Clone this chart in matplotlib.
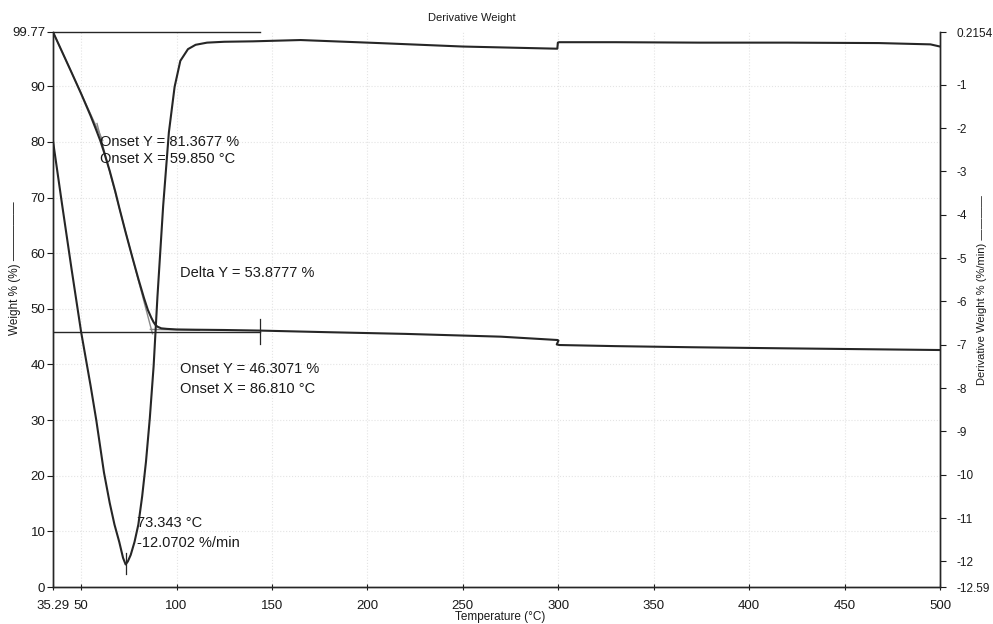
import matplotlib
matplotlib.use("Agg")
import matplotlib.pyplot as plt

plt.rcParams['font.family'] = ['Liberation Sans', 'DejaVu Sans']
plt.rcParams['axes.unicode_minus'] = False

# ---- TGA weight curve (Weight %, left axis) ----
weight_temp = [35.29, 40, 45, 50, 55, 58, 60, 62, 65, 68, 70, 73.3, 77, 80, 83,
               85, 86.8, 88, 89, 90, 92, 95, 100, 110, 125, 143, 180, 220, 250,
               270, 299.6, 300.1, 299.2, 300.6, 330, 370, 420, 460, 500]
weight_pct = [99.77, 96.25, 92.5, 88.7, 84.7, 82.1, 80.3, 78.2, 74.8, 71.0, 68.2,
              63.8, 59.1, 55.4, 51.9, 49.8, 48.4, 47.6, 47.1, 46.8, 46.5, 46.4,
              46.3, 46.25, 46.2, 46.1, 45.8, 45.5, 45.2, 45.0, 44.4, 44.3, 43.6,
              43.5, 43.3, 43.1, 42.9, 42.75, 42.6]

# ---- Derivative weight curve (%/min, right axis) ----
deriv_temp = [35.29, 40, 45, 50, 55, 58, 60, 62, 65, 67.5, 70, 72, 73.343, 74.5,
              76, 78, 80, 82, 84, 86, 88, 90, 93, 96, 99, 102, 106, 110, 116,
              125, 140, 165, 206, 250, 299.5, 299.8, 300.5, 330, 374, 420, 468,
              495, 500]
deriv_val = [-2.30, -3.75, -5.25, -6.70, -7.95, -8.75, -9.35, -9.95, -10.65,
             -11.15, -11.55, -11.92, -12.0702, -12.0, -11.85, -11.55, -11.15,
             -10.5, -9.7, -8.7, -7.5, -5.9, -3.8, -2.1, -1.05, -0.45, -0.18,
             -0.08, -0.03, -0.01, 0.0, 0.03, -0.04, -0.12, -0.17, -0.03, -0.02,
             -0.02, -0.03, -0.03, -0.04, -0.07, -0.12]

# ---- analysis results ----
onset1_x, onset1_y = 59.850, 81.3677
onset2_x, onset2_y = 86.810, 46.3071
delta_y = 53.8777
start_weight = 99.77
peak_x, peak_y = 73.343, -12.0702
step_end_x = 143.7

# ---- axis ranges and ticks ----
x_min, x_max = 35.29, 500
w_min, w_max = 0, 99.77
d_min, d_max = -12.59, 0.2154
x_ticks = [35.29, 50, 100, 150, 200, 250, 300, 350, 400, 450, 500]
w_ticks = [0, 10, 20, 30, 40, 50, 60, 70, 80, 90, 99.77]
d_ticks = [0.2154, -1, -2, -3, -4, -5, -6, -7, -8, -9, -10, -11, -12, -12.59]

line_col = '#262626'
tan_col = '#8a8a8a'
txt_col = '#1a1a1a'

fig = plt.figure(figsize=(9.93, 6.24), dpi=100)
ax = fig.add_axes([53 / 993, 37 / 624, 887 / 993, 555 / 624])
ax2 = ax.twinx()

ax.set_xlim(x_min, x_max)
ax.set_ylim(w_min, w_max)
ax2.set_ylim(d_min, d_max)

# faint dotted grid
for t in x_ticks[1:-1]:
    ax.axvline(t, color='#e4e4e4', lw=0.8, ls=':', zorder=0)
for w in w_ticks[1:-1]:
    ax.axhline(w, color='#e4e4e4', lw=0.8, ls=':', zorder=0)

# weight curve
ax.plot(weight_temp, weight_pct, color=line_col, lw=1.5, zorder=3)

# tangent construction lines
s1 = (onset1_y - start_weight) / (onset1_x - x_min)
ax.plot([x_min, onset1_x + 1.5], [start_weight, onset1_y + s1 * 1.5],
        color=tan_col, lw=1.0, zorder=2)
s2 = (onset2_y - onset1_y) / (onset2_x - onset1_x)
ax.plot([onset1_x - 1.5, onset2_x + 0.6],
        [onset1_y - s2 * 1.5, onset2_y + s2 * 0.6],
        color=tan_col, lw=1.0, zorder=2)
ax.plot([onset2_x - 0.5, 112], [onset2_y, onset2_y - 0.15],
        color=tan_col, lw=1.0, zorder=2)

# delta-Y step lines
low_level = start_weight - delta_y
ax.plot([x_min, step_end_x], [start_weight, start_weight], color=line_col, lw=1.0,
        clip_on=False, zorder=3)
ax.plot([x_min, step_end_x], [low_level, low_level], color=line_col, lw=1.0, zorder=3)
ax.plot([step_end_x, step_end_x], [low_level - 2.2, low_level + 2.2],
        color=line_col, lw=0.9, zorder=3)

# derivative curve
ax2.plot(deriv_temp, deriv_val, color=line_col, lw=1.5, zorder=3)
ax2.plot([peak_x, peak_x], [peak_y + 0.27, peak_y - 0.22], color=line_col, lw=0.9)

# annotations
fs = 10.5
ax.text(onset1_x, 80.0, "Onset Y = 81.3677 %", fontsize=fs, color=txt_col, va='center')
ax.text(onset1_x, 76.9, "Onset X = 59.850 \u00b0C", fontsize=fs, color=txt_col, va='center')
ax.text(101.8, 56.4, "Delta Y = 53.8777 %", fontsize=fs, color=txt_col, va='center')
ax.text(101.8, 39.2, "Onset Y = 46.3071 %", fontsize=fs, color=txt_col, va='center')
ax.text(101.8, 35.6, "Onset X = 86.810 \u00b0C", fontsize=fs, color=txt_col, va='center')
ax.text(79.3, 11.5, "73.343 \u00b0C", fontsize=fs, color=txt_col, va='center')
ax.text(79.3, 7.9, "-12.0702 %/min", fontsize=fs, color=txt_col, va='center')

# ticks
ax.set_xticks(x_ticks)
ax.set_xticklabels([f"{t:g}" for t in x_ticks])
ax.set_yticks(w_ticks)
ax.set_yticklabels([f"{w:g}" for w in w_ticks])
ax2.set_yticks(d_ticks)
ax2.set_yticklabels([f"{d:g}" for d in d_ticks])

for a in (ax, ax2):
    a.spines['top'].set_visible(False)
    for sp in a.spines.values():
        sp.set_color(line_col)
        sp.set_linewidth(1.0)
ax.tick_params(axis='x', direction='inout', length=5, width=0.8, labelsize=9.5,
               colors=txt_col, pad=7)
ax.tick_params(axis='y', direction='out', length=4, width=0.8, labelsize=9.5,
               colors=txt_col, pad=1.5)
ax2.tick_params(axis='y', direction='out', length=4, width=0.8, labelsize=8.5,
                colors=txt_col, pad=8)

# axis titles
fig.text(472 / 993, 1 - 18 / 624, "Derivative Weight", fontsize=8, ha='center',
         va='center', color=txt_col)
fig.text(500 / 993, 1 - 617 / 624, "Temperature (\u00b0C)", fontsize=8.5, ha='center',
         va='center', color=txt_col)
fig.text(15 / 993, 1 - 268 / 624, "Weight % (%) \u2014\u2014\u2014\u2014\u2014", fontsize=8.5,
         rotation=90, ha='center', va='center', color=txt_col)
fig.text(982 / 993, 1 - 290 / 624, "Derivative Weight % (%/min) \u2014\u2014\u2014\u2014",
         fontsize=8, rotation=90, ha='center', va='center', color=txt_col)

fig.savefig("out.png", dpi=100, facecolor='white')
